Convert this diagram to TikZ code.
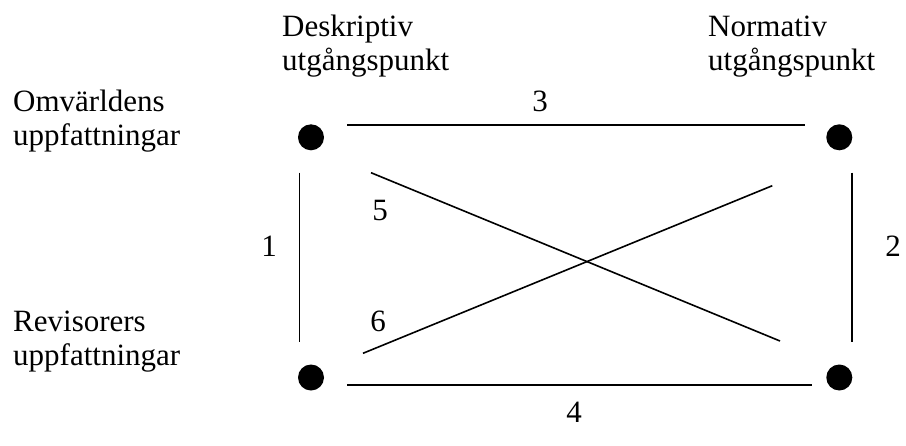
\documentclass[tikz,border=0pt]{standalone}
\usepackage{fontspec}
\setmainfont{Liberation Serif}
\begin{document}
\begin{tikzpicture}[x=1pt,y=-1pt,
  lbl/.style={inner sep=0pt,anchor=base west,font=\fontsize{31}{33}\selectfont},
  num/.style={inner sep=0pt,anchor=base,font=\fontsize{31}{33}\selectfont},
  dot/.style={circle,fill=black,inner sep=0pt,minimum size=26pt},
  ln/.style={line width=1.6pt}]
\useasboundingbox (0,0) rectangle (906,445);
% headings
\node[lbl] (d1) at (282,36.7) {Deskriptiv};
\node[lbl] (d2) at (282,70) {utgångspunkt};
\node[lbl] (n1) at (708,36.7) {Normativ};
\node[lbl] (n2) at (708,70) {utgångspunkt};
\node[lbl] (o1) at (13,111.7) {Omvärldens};
\node[lbl] (o2) at (13,145) {uppfattningar};
\node[lbl] (r1) at (13,331.7) {Revisorers};
\node[lbl] (r2) at (13,365) {uppfattningar};
% dots
\node[dot] (tl) at (311,137.3) {};
\node[dot] (tr) at (839.3,137.3) {};
\node[dot] (bl) at (311,377.5) {};
\node[dot] (br) at (839.3,377.5) {};
% line end points
\coordinate (t1) at (347,125);
\coordinate (t2) at (804.5,125);
\coordinate (b1) at (347,385);
\coordinate (b2) at (812.3,385);
\coordinate (l1) at (299.3,172.7);
\coordinate (l2) at (299.3,341.7);
\coordinate (r1c) at (851.7,172.7);
\coordinate (r2c) at (851.7,341.7);
\coordinate (x1) at (371,172.7);
\coordinate (x2) at (780,341);
\coordinate (y1) at (363,353.3);
\coordinate (y2) at (772.3,185.7);
\draw[ln] (t1) -- (t2);
\draw[ln] (b1) -- (b2);
\draw[ln] (l1) -- (l2);
\draw[ln] (r1c) -- (r2c);
\draw[ln] (x1) -- (x2);
\draw[ln] (y1) -- (y2);
% numbers
\node[num] (n3) at (540,111.7) {3};
\node[num] (n4) at (574,422) {4};
\node[num] (n1l) at (269,256.7) {1};
\node[num] (n2l) at (893,256.7) {2};
\node[num] (n5) at (380,220) {5};
\node[num] (n6) at (378,331.7) {6};
\end{tikzpicture}
\end{document}
